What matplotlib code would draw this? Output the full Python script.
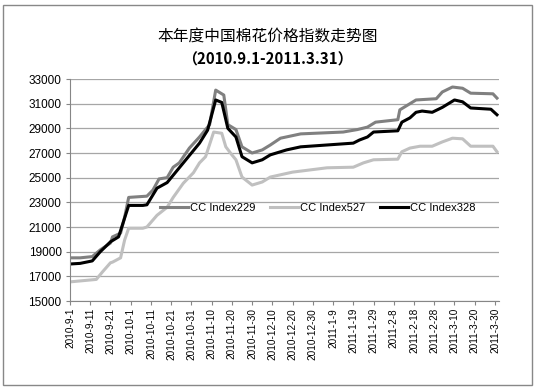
import matplotlib
matplotlib.use("Agg")
import matplotlib.pyplot as plt
import matplotlib.patches as mpatches
import pandas as pd

plt.rcParams['font.family'] = ['Liberation Sans', 'Noto Sans CJK SC', 'DejaVu Sans']

# CC Index229
d229 = ['2010-09-01', '2010-09-06', '2010-09-12', '2010-09-16', '2010-09-21', '2010-09-22',
        '2010-09-26', '2010-09-28', '2010-09-30', '2010-10-09', '2010-10-12', '2010-10-15',
        '2010-10-19', '2010-10-22', '2010-10-25', '2010-10-30', '2010-11-04', '2010-11-09',
        '2010-11-12', '2010-11-16', '2010-11-18', '2010-11-22', '2010-11-25', '2010-11-30',
        '2010-12-05', '2010-12-09', '2010-12-14', '2010-12-24', '2011-01-14', '2011-01-21',
        '2011-01-26', '2011-01-30', '2011-02-10', '2011-02-11', '2011-02-15', '2011-02-19',
        '2011-03-01', '2011-03-04', '2011-03-09', '2011-03-14', '2011-03-18', '2011-03-29',
        '2011-03-31']
v229 = [18500, 18500, 18600, 19150, 19700, 20200, 20500, 21800, 23400, 23500, 24000, 24900,
        25000, 25850, 26200, 27400, 28300, 29300, 32100, 31700, 29300, 28900, 27500, 27000,
        27250, 27650, 28200, 28550, 28700, 28900, 29100, 29500, 29700, 30500, 30900, 31300,
        31400, 31950, 32350, 32250, 31850, 31800, 31450]

# CC Index527
d527 = ['2010-09-01', '2010-09-14', '2010-09-17', '2010-09-21', '2010-09-22', '2010-09-26',
        '2010-09-28', '2010-09-30', '2010-10-07', '2010-10-09', '2010-10-14', '2010-10-19',
        '2010-10-22', '2010-10-27', '2010-11-01', '2010-11-04', '2010-11-07', '2010-11-11',
        '2010-11-15', '2010-11-17', '2010-11-20', '2010-11-22', '2010-11-25', '2010-11-30',
        '2010-12-05', '2010-12-09', '2010-12-20', '2011-01-06', '2011-01-19', '2011-01-24',
        '2011-01-29', '2011-02-10', '2011-02-12', '2011-02-16', '2011-02-21', '2011-02-27',
        '2011-03-04', '2011-03-09', '2011-03-14', '2011-03-18', '2011-03-29', '2011-03-31']
v527 = [16550, 16750, 17350, 18100, 18150, 18500, 19950, 20900, 20900, 21000, 21950, 22600,
        23400, 24550, 25400, 26200, 26700, 28700, 28600, 27500, 26850, 26450, 25050, 24400,
        24650, 25050, 25450, 25800, 25850, 26200, 26450, 26500, 27100, 27400, 27550, 27550,
        27900, 28200, 28150, 27550, 27550, 27100]

# CC Index328
d328 = ['2010-09-01', '2010-09-06', '2010-09-12', '2010-09-16', '2010-09-21', '2010-09-25',
        '2010-09-30', '2010-10-07', '2010-10-09', '2010-10-14', '2010-10-19', '2010-10-24',
        '2010-10-29', '2010-11-04', '2010-11-08', '2010-11-12', '2010-11-15', '2010-11-18',
        '2010-11-22', '2010-11-25', '2010-11-30', '2010-12-05', '2010-12-09', '2010-12-17',
        '2010-12-24', '2011-01-06', '2011-01-19', '2011-01-22', '2011-01-26', '2011-01-29',
        '2011-02-10', '2011-02-12', '2011-02-16', '2011-02-19', '2011-02-22', '2011-02-27',
        '2011-03-04', '2011-03-08', '2011-03-10', '2011-03-14', '2011-03-18', '2011-03-28',
        '2011-03-31']
v328 = [18000, 18050, 18250, 19000, 19800, 20200, 22750, 22750, 22800, 24150, 24600, 25600,
        26600, 27800, 28850, 31300, 31100, 29000, 28300, 26700, 26200, 26450, 26850, 27250,
        27500, 27650, 27800, 28050, 28300, 28700, 28800, 29500, 29850, 30300, 30400, 30300,
        30700, 31100, 31300, 31150, 30650, 30550, 30100]

tick_dates = pd.date_range('2010-09-01', periods=22, freq='10D')
tick_labels = [f"{d.year}-{d.month}-{d.day}" for d in tick_dates]
y_ticks = list(range(15000, 33001, 2000))

fig = plt.figure(figsize=(5.35, 3.9), dpi=100)
ax = fig.add_axes([70 / 535, 89 / 390, 429 / 535, 222 / 390])

ax.plot(pd.to_datetime(d229), v229, color='#808080', lw=2.2, label='CC Index229')
ax.plot(pd.to_datetime(d527), v527, color='#c0c0c0', lw=2.2, label='CC Index527')
ax.plot(pd.to_datetime(d328), v328, color='black', lw=2.2, label='CC Index328')

ax.set_xlim(pd.Timestamp('2010-09-01'), pd.Timestamp('2011-04-01'))
ax.set_ylim(15000, 33000)
ax.set_yticks(y_ticks)
ax.set_yticklabels([str(v) for v in y_ticks], fontsize=8.5)
ax.set_xticks(tick_dates)
ax.set_xticklabels(tick_labels, rotation=90, fontsize=7.2)
ax.grid(axis='y', color='#a6a6a6', lw=0.9)
ax.set_axisbelow(True)
for s in ['top', 'right']:
    ax.spines[s].set_visible(False)
for s in ['left', 'bottom']:
    ax.spines[s].set_color('#868686')
ax.tick_params(axis='x', length=3, color='#868686', pad=2)
ax.tick_params(axis='y', length=3, color='#868686', pad=3)

ax.legend(loc='center', bbox_to_anchor=(0.578, 0.419), ncol=3, frameon=False,
          fontsize=8, handlelength=2.5, handletextpad=0.2, columnspacing=1.3)

fig.text(0.5, 1 - 37 / 390, '本年度中国棉花价格指数走势图', ha='center', va='center',
         fontsize=11.3, family=['Noto Sans CJK SC', 'DejaVu Sans'])
fig.text(0.5, 1 - 60 / 390, '（2010.9.1-2011.3.31）', ha='center', va='center',
         fontsize=10.8, fontweight='bold', family=['Noto Sans CJK SC', 'DejaVu Sans'])

fig.patches.append(mpatches.Rectangle((3 / 535, 5 / 390), 529 / 535, 380 / 390,
                                      transform=fig.transFigure, fill=False,
                                      edgecolor='#888888', lw=1))

fig.savefig('out.png', dpi=100)
